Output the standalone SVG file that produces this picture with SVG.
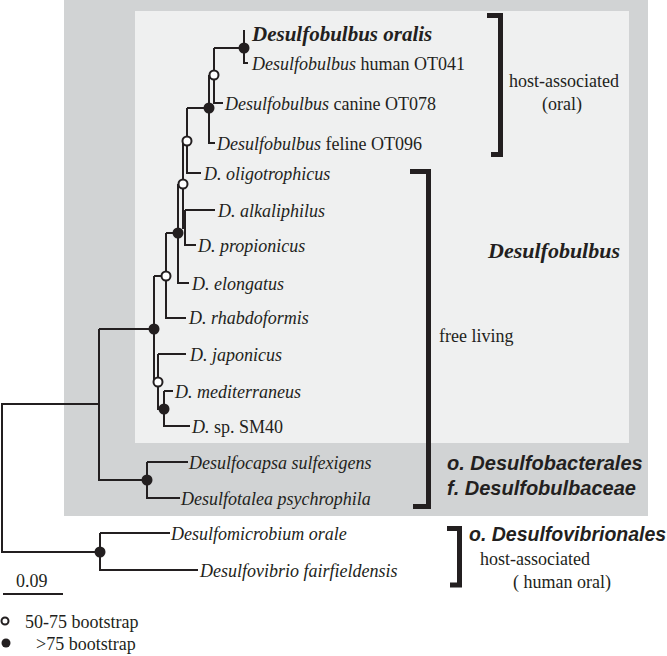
<svg xmlns="http://www.w3.org/2000/svg" width="667" height="656" viewBox="0 0 667 656">
<style>
  .t { font-family: "Liberation Serif", "Times New Roman", serif; font-size: 18px; fill: #231f20; }
  .i { font-style: italic; }
  .bi { font-style: italic; font-weight: bold; }
  .a { font-family: "Liberation Sans", Arial, sans-serif; font-weight: bold; font-style: italic; font-size: 20px; fill: #231f20; }
  .br { fill: #231f20; stroke: #231f20; stroke-width: 2; fill: none; }
  .bk { fill: none; stroke: #231f20; stroke-width: 5; stroke-linecap: butt; stroke-linejoin: miter; }
  .f { fill: #231f20; }
  .o { fill: #ffffff; stroke: #231f20; stroke-width: 2; }
</style>
<rect x="64" y="0" width="584" height="516" fill="#d1d3d4"/>
<rect x="135" y="11" width="494" height="432" fill="#eff0f0"/>

<g id="connectors">
  <path class="br" d="M244,30 V63 H248"/>
  <path class="br" d="M214,48 H244 M214,48 V103 H223"/>
  <path class="br" d="M209,75 H214 M209,75 V143 H215"/>
  <path class="br" d="M187,108 H209 M187,108 V173 H201"/>
  <path class="br" d="M183,141 H187 M183,141 V228 H185"/>
  <path class="br" d="M185,210 H215 M185,210 V245 H196"/>
  <path class="br" d="M178,184 H183 M178,184 V283 H189"/>
  <path class="br" d="M166,233 H178 M166,233 V318 H186"/>
  <path class="br" d="M154,276 H166 M154,276 V382 H158"/>
  <path class="br" d="M158,354 H186 M158,354 V409 H164"/>
  <path class="br" d="M164,391 H173 M164,391 V426 H190"/>
  <path class="br" d="M99,329 H154 M99,329 V480 H147"/>
  <path class="br" d="M147,462 H188 M147,462 V498 H180"/>
  <path class="br" d="M2,404 H99 M2,403 V553 M2,552 H100"/>
  <path class="br" d="M100,533 H170 M100,533 V570 H198"/>
</g>

<g id="nodes">
  <circle class="f" cx="244" cy="48" r="5.5"/>
  <circle class="o" cx="214" cy="75" r="4.5"/>
  <circle class="f" cx="209" cy="108" r="5.5"/>
  <circle class="o" cx="187" cy="141" r="4.5"/>
  <circle class="o" cx="183" cy="184" r="4.5"/>
  <circle class="f" cx="178" cy="233" r="5.5"/>
  <circle class="o" cx="166" cy="276" r="4.5"/>
  <circle class="f" cx="154" cy="329" r="5.5"/>
  <circle class="o" cx="158" cy="382" r="4.5"/>
  <circle class="f" cx="164" cy="409" r="5.5"/>
  <circle class="f" cx="147" cy="480" r="5.5"/>
  <circle class="f" cx="100" cy="552" r="5.5"/>
</g>

<g id="labels">
  <text class="t bi" x="252" y="41" style="font-size:21px">Desulfobulbus oralis</text>
  <text class="t" x="252" y="70"><tspan class="i">Desulfobulbus</tspan> human OT041</text>
  <text class="t" x="225" y="110"><tspan class="i">Desulfobulbus</tspan> canine OT078</text>
  <text class="t" x="217" y="150"><tspan class="i">Desulfobulbus</tspan> feline OT096</text>
  <text class="t i" x="204" y="180">D. oligotrophicus</text>
  <text class="t i" x="218" y="217">D. alkaliphilus</text>
  <text class="t i" x="198" y="252">D. propionicus</text>
  <text class="t i" x="192" y="290">D. elongatus</text>
  <text class="t i" x="189" y="324">D. rhabdoformis</text>
  <text class="t i" x="190" y="361">D. japonicus</text>
  <text class="t i" x="175" y="398">D. mediterraneus</text>
  <text class="t" x="192" y="433"><tspan class="i">D.</tspan> sp. SM40</text>
  <text class="t i" x="189" y="469">Desulfocapsa sulfexigens</text>
  <text class="t i" x="181" y="505">Desulfotalea psychrophila</text>
  <text class="t i" x="171" y="540">Desulfomicrobium orale</text>
  <text class="t i" x="200" y="577">Desulfovibrio fairfieldensis</text>
</g>

<g id="brackets">
  <path class="bk" d="M487,15.5 H500.5 V154.5 H491"/>
  <path class="bk" d="M410,171.5 H428.5 V506.5 H413"/>
  <path class="bk" d="M447,528.5 H459.5 V585 H450"/>
</g>

<g id="group-labels">
  <text class="t" x="564" y="87" text-anchor="middle">host-associated</text>
  <text class="t" x="562" y="110" text-anchor="middle">(oral)</text>
  <text class="t bi" x="488" y="258" style="font-size:22px">Desulfobulbus</text>
  <text class="t" x="439" y="342">free living</text>
  <text class="a" x="447" y="470">o. Desulfobacterales</text>
  <text class="a" x="447" y="495">f. Desulfobulbaceae</text>
  <text class="a" x="469" y="541" style="font-size:19.5px">o. Desulfovibrionales</text>
  <text class="t" x="480" y="565">host-associated</text>
  <text class="t" x="513" y="588">( human oral)</text>
</g>

<g id="scale">
  <text class="t" x="16" y="587">0.09</text>
  <line x1="3" y1="594" x2="63" y2="594" stroke="#231f20" stroke-width="2"/>
</g>

<g id="legend">
  <circle class="o" cx="5" cy="621" r="3.5"/>
  <text class="t" x="25" y="628">50-75 bootstrap</text>
  <circle class="f" cx="6" cy="643" r="4.5"/>
  <text class="t" x="36" y="650">&gt;75 bootstrap</text>
</g>
</svg>
